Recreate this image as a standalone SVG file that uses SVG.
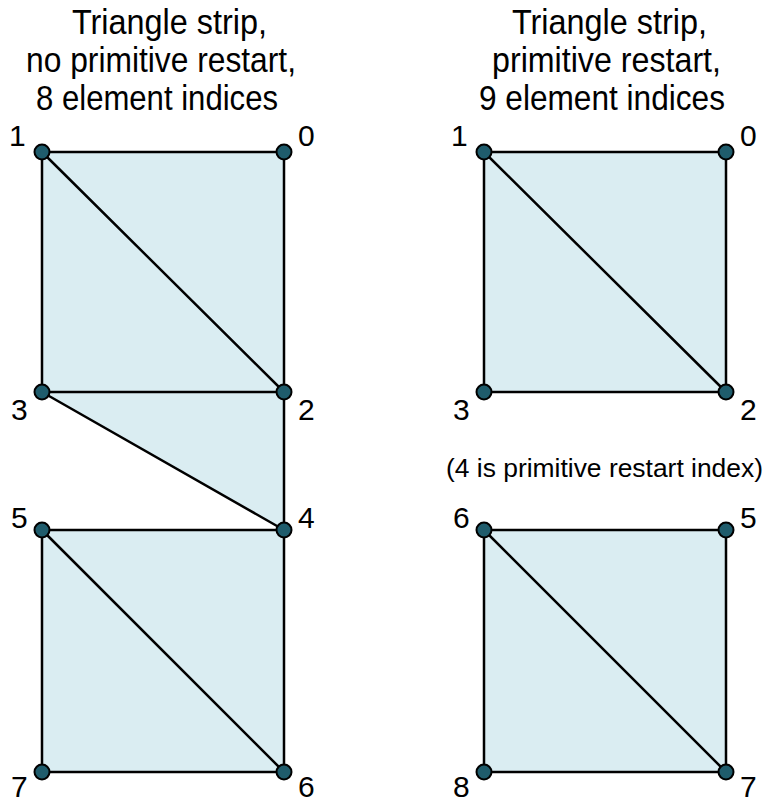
<svg xmlns="http://www.w3.org/2000/svg" width="766" height="804" viewBox="0 0 766 804">
<style>
text{font-family:"Liberation Sans",Arial,sans-serif;fill:#000}
.t{font-size:35px}
.l{font-size:30px}
.face{fill:#daedf2;stroke:none}
.e{stroke:#000;stroke-width:2.5;fill:none}
.v{fill:#1f5c6c;stroke:#000;stroke-width:2}
</style>
<rect width="766" height="804" fill="#fff"/>
<g id="titles">
<text class="t" x="72" y="34" textLength="195" lengthAdjust="spacingAndGlyphs">Triangle strip,</text>
<text class="t" x="26" y="72" textLength="270" lengthAdjust="spacingAndGlyphs">no primitive restart,</text>
<text class="t" x="36" y="110" textLength="242" lengthAdjust="spacingAndGlyphs">8 element indices</text>
<text class="t" x="512" y="34" textLength="195" lengthAdjust="spacingAndGlyphs">Triangle strip,</text>
<text class="t" x="492" y="72" textLength="229" lengthAdjust="spacingAndGlyphs">primitive restart,</text>
<text class="t" x="479" y="110" textLength="246" lengthAdjust="spacingAndGlyphs">9 element indices</text>
<text x="446" y="477" style="font-size:26px" textLength="317" lengthAdjust="spacingAndGlyphs">(4 is primitive restart index)</text>
</g>
<g id="faces">
<polygon class="face" points="42,152 284,152 284,530 42,392"/>
<rect class="face" x="42" y="530" width="242" height="242"/>
<rect class="face" x="484" y="152" width="242" height="240"/>
<rect class="face" x="484" y="530" width="242" height="242"/>
</g>
<g id="connectors">
<path class="e" d="M42,152H284V530M42,152V392H284M42,152L284,392M42,392L284,530"/>
<path class="e" d="M42,530H284V772H42ZM42,530L284,772"/>
<path class="e" d="M484,152H726V392H484ZM484,152L726,392"/>
<path class="e" d="M484,530H726V772H484ZM484,530L726,772"/>
</g>
<g id="left-vertices">
<g id="L0"><circle class="v" cx="284" cy="152" r="7.5"/><text class="l" x="298" y="146">0</text></g>
<g id="L1"><circle class="v" cx="42" cy="152" r="7.5"/><text class="l" x="9" y="146">1</text></g>
<g id="L2"><circle class="v" cx="284" cy="392" r="7.5"/><text class="l" x="298" y="420">2</text></g>
<g id="L3"><circle class="v" cx="42" cy="392" r="7.5"/><text class="l" x="11" y="420">3</text></g>
<g id="L4"><circle class="v" cx="284" cy="530" r="7.5"/><text class="l" x="298" y="528">4</text></g>
<g id="L5"><circle class="v" cx="42" cy="530" r="7.5"/><text class="l" x="11" y="528">5</text></g>
<g id="L6"><circle class="v" cx="284" cy="772" r="7.5"/><text class="l" x="298" y="797">6</text></g>
<g id="L7"><circle class="v" cx="42" cy="772" r="7.5"/><text class="l" x="11" y="797">7</text></g>
</g>
<g id="right-vertices">
<g id="R0"><circle class="v" cx="726" cy="152" r="7.5"/><text class="l" x="740" y="146">0</text></g>
<g id="R1"><circle class="v" cx="484" cy="152" r="7.5"/><text class="l" x="451" y="146">1</text></g>
<g id="R2"><circle class="v" cx="726" cy="392" r="7.5"/><text class="l" x="740" y="420">2</text></g>
<g id="R3"><circle class="v" cx="484" cy="392" r="7.5"/><text class="l" x="453" y="420">3</text></g>
<g id="R5"><circle class="v" cx="726" cy="530" r="7.5"/><text class="l" x="740" y="528">5</text></g>
<g id="R6"><circle class="v" cx="484" cy="530" r="7.5"/><text class="l" x="453" y="528">6</text></g>
<g id="R7"><circle class="v" cx="726" cy="772" r="7.5"/><text class="l" x="740" y="797">7</text></g>
<g id="R8"><circle class="v" cx="484" cy="772" r="7.5"/><text class="l" x="453" y="797">8</text></g>
</g>
</svg>
